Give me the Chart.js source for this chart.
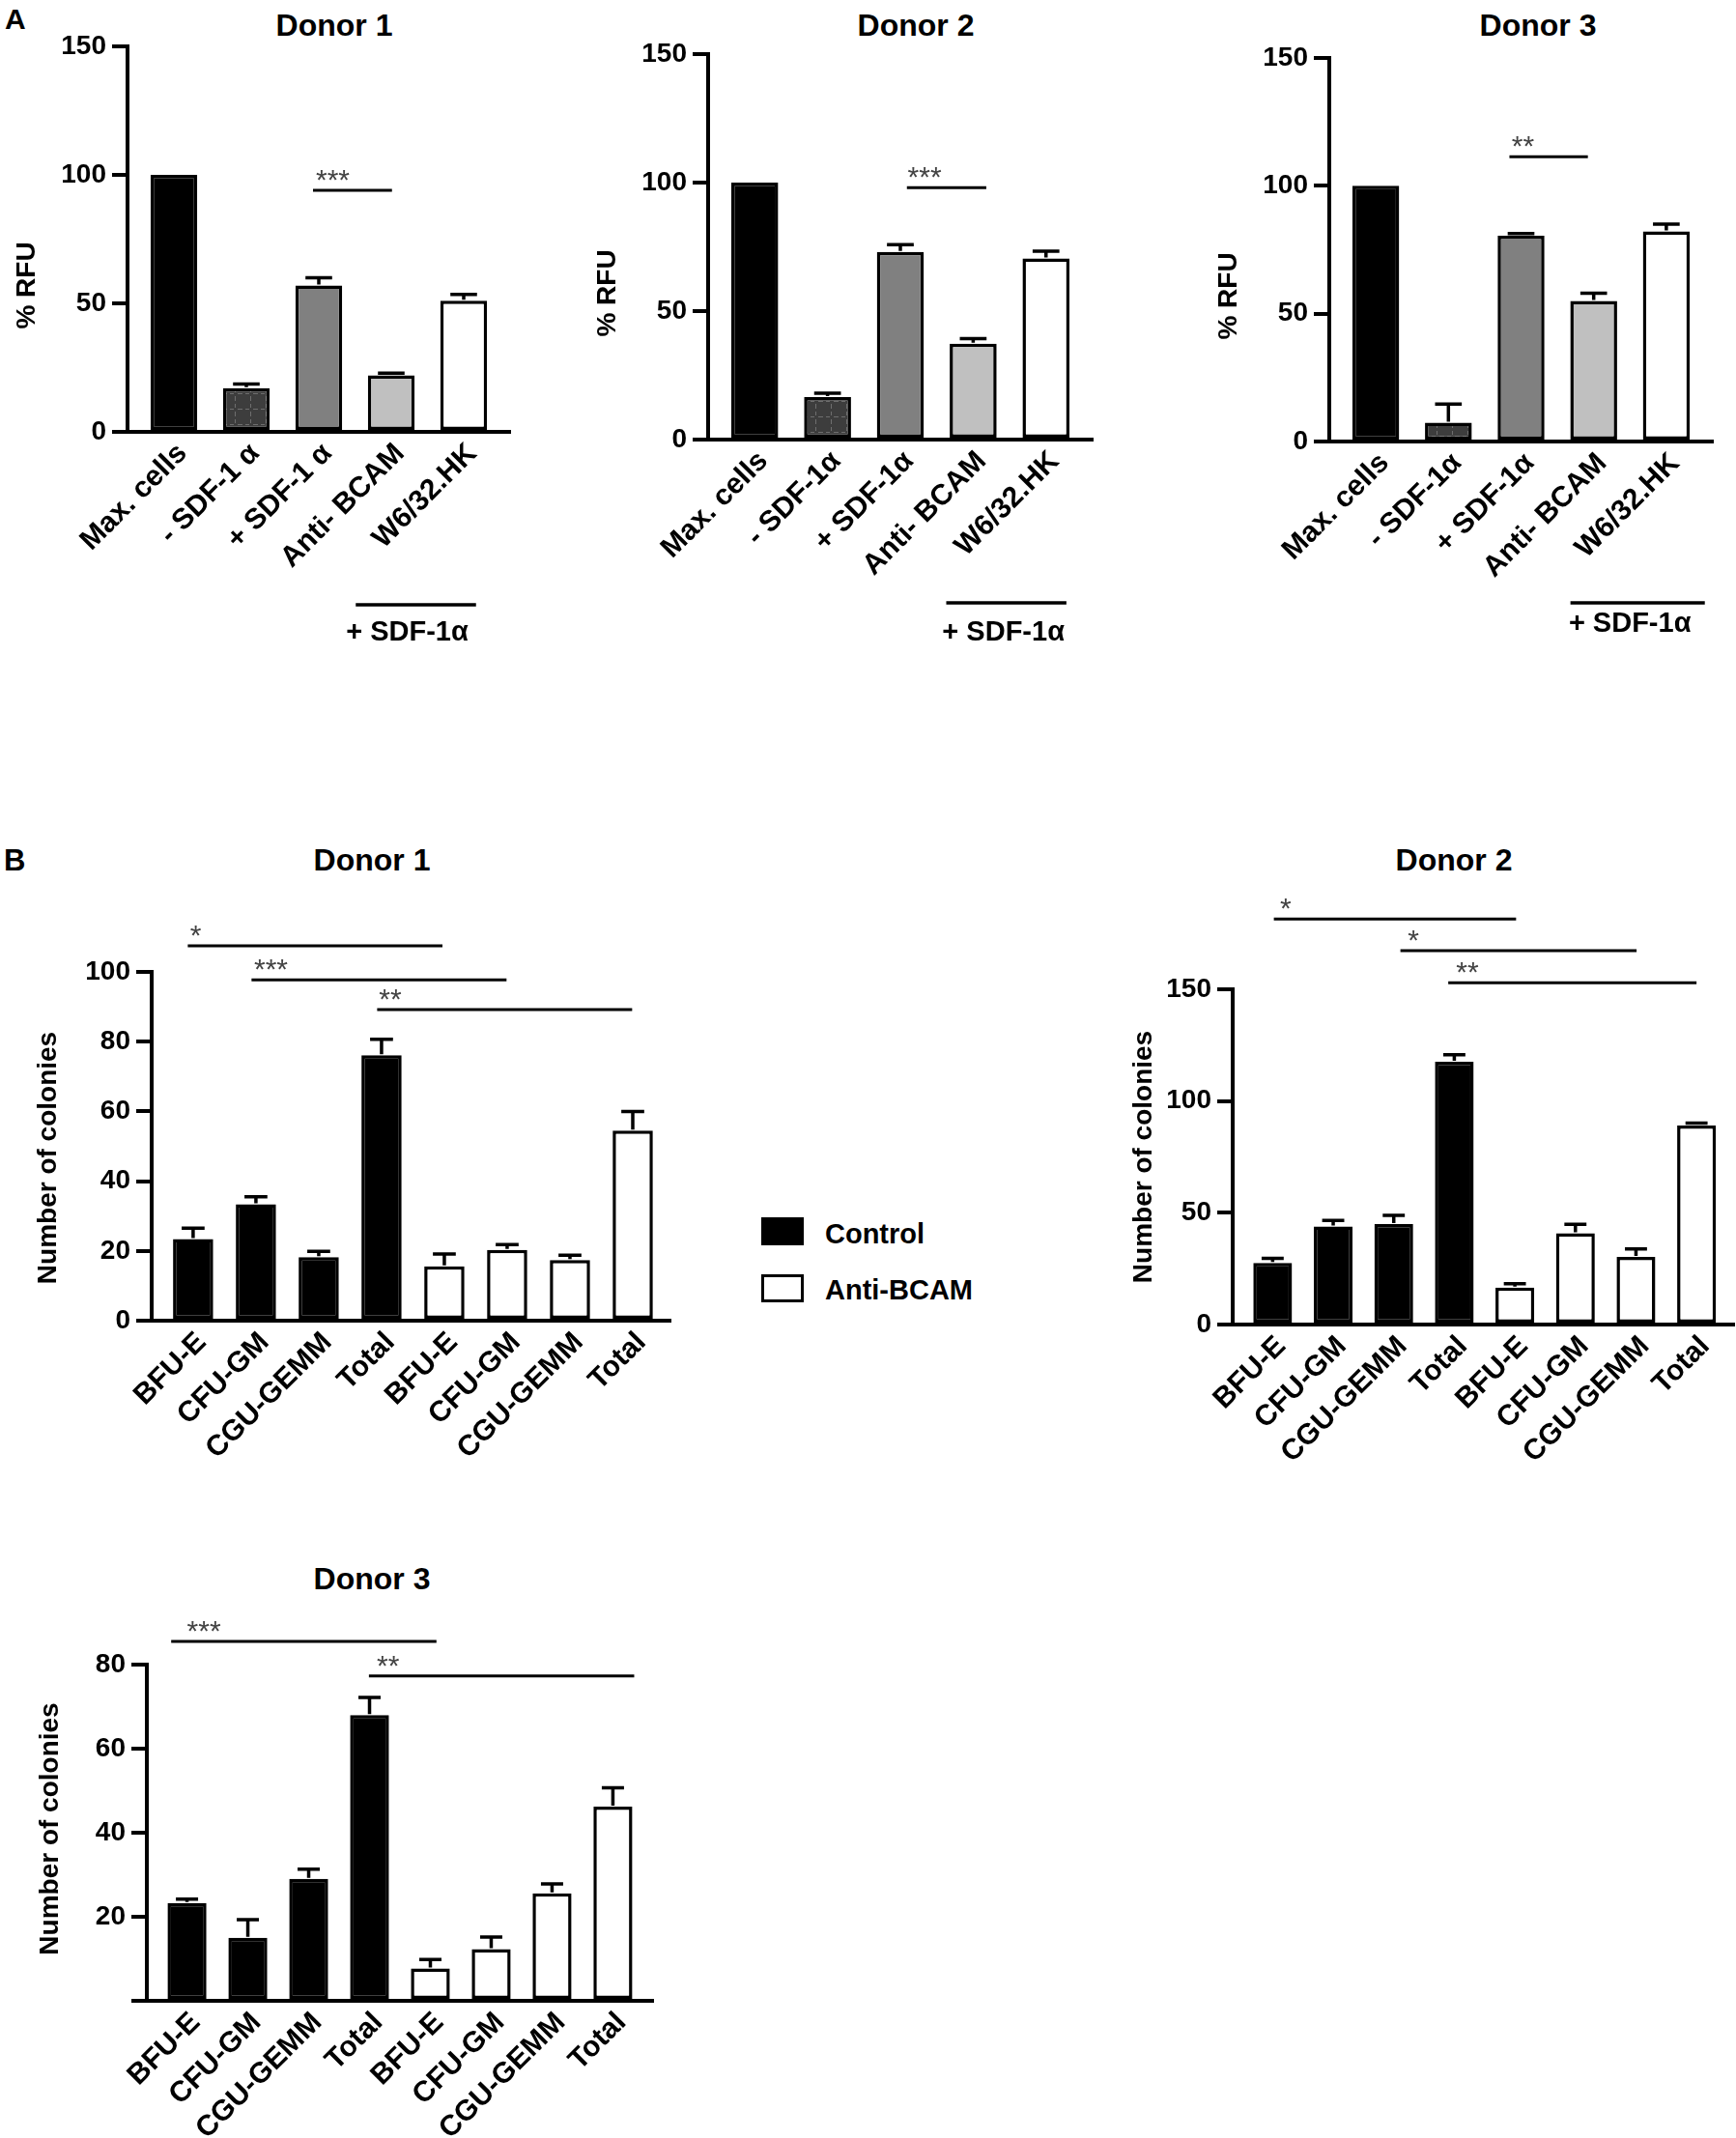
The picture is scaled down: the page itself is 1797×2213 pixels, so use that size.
<!DOCTYPE html>
<html><head><meta charset="utf-8">
<script src="https://cdn.jsdelivr.net/npm/chart.js@4.4.1/dist/chart.umd.min.js"></script>
<style>
html,body{margin:0;padding:0;background:#fff;}
#page{position:relative;width:1797px;height:2213px;overflow:hidden;font-family:"Liberation Sans",Arial,sans-serif;color:#000;}
.box{position:absolute;}
.txt{position:absolute;font-weight:bold;white-space:nowrap;line-height:1;}
.ctr{text-align:center;width:600px;}
.sw{position:absolute;box-sizing:border-box;width:44px;height:29px;}
</style></head><body><div id="page"></div>
<script>
// ---------- DATA ----------
const rfuLabelsDonor1 = ['Max. cells', '- SDF-1 α', '+ SDF-1 α', 'Anti- BCAM', 'W6/32.HK'];
const rfuLabels = ['Max. cells', '- SDF-1α', '+ SDF-1α', 'Anti- BCAM', 'W6/32.HK'];
const rfuDonor1 = [100, 17, 57, 22, 51];
const rfuDonor1Err = [0, 1.6, 3, 0.8, 2.5];
const rfuDonor2 = [100, 16.5, 73, 37.3, 70.5];
const rfuDonor2Err = [0, 1.5, 2.8, 2, 2.8];
const rfuDonor3 = [100, 7.4, 80.5, 55, 82.2];
const rfuDonor3Err = [0, 7.2, 0.8, 3, 2.8];
const rfuTicks = [0, 50, 100, 150];

const colonyTypes = ['BFU-E', 'CFU-GM', 'CGU-GEMM', 'Total'];
const seriesNames = ['Control', 'Anti-BCAM'];
const donor1Control = [23.4, 33.4, 18.2, 76.1];
const donor1ControlErr = [3.1, 2.1, 1.7, 4.6];
const donor1Anti = [15.6, 20.3, 17.4, 54.5];
const donor1AntiErr = [3.5, 1.5, 1.4, 5.5];
const donor2Control = [27.6, 43.9, 45, 117.6];
const donor2ControlErr = [2, 2.7, 3.8, 3.1];
const donor2Anti = [16.5, 40.8, 30.3, 89];
const donor2AntiErr = [1.8, 4, 3.5, 1.1];
const donor3Control = [23.3, 15, 29, 68];
const donor3ControlErr = [0.9, 4.3, 2.3, 4.2];
const donor3Anti = [7.7, 12.3, 25.6, 46.2];
const donor3AntiErr = [2.1, 2.9, 2.2, 4.5];
const colonyTicks1 = [0, 20, 40, 60, 80, 100];
const colonyTicks2 = [0, 50, 100, 150];
const colonyTicks3 = [0, 20, 40, 60, 80];

// significance comparisons (category index units, value level)
const sigRfu1 = [{text: '***', from: 1.92, to: 3.01, level: 94, tx: 1.96}];
const sigRfu2 = [{text: '***', from: 2.09, to: 3.18, level: 98, tx: 2.1}];
const sigRfu3 = [{text: '**', from: 1.84, to: 2.92, level: 111.4, tx: 1.87}];
const sigCol1 = [
  {text: '*', from: -0.085, to: 3.97, level: 107.5, tx: -0.05},
  {text: '***', from: 0.93, to: 4.99, level: 97.7, tx: 0.97},
  {text: '**', from: 2.93, to: 6.99, level: 89.2, tx: 2.96}
];
const sigCol2 = [
  {text: '*', from: 0.02, to: 4.02, level: 181.5, tx: 0.12},
  {text: '*', from: 2.11, to: 6.01, level: 167.3, tx: 2.23},
  {text: '**', from: 2.9, to: 7.0, level: 152.9, tx: 3.03}
];
const sigCol3 = [
  {text: '***', from: -0.26, to: 4.1, level: 85.5, tx: 0.0},
  {text: '**', from: 2.99, to: 7.35, level: 77.3, tx: 3.12}
];
const bracketText = '+ SDF-1α';

// ---------- STYLE ----------
const FAM = "'Liberation Sans', Arial, sans-serif";
const page = document.getElementById('page');

function dashedFill(base, line) {
  const t = document.createElement('canvas');
  t.width = 16; t.height = 16;
  const g = t.getContext('2d');
  g.fillStyle = base; g.fillRect(0, 0, 16, 16);
  g.fillStyle = line;
  g.fillRect(15, 2, 1, 5); g.fillRect(15, 10, 1, 4);
  g.fillRect(2, 15, 5, 1); g.fillRect(10, 15, 4, 1);
  return g.createPattern(t, 'repeat');
}
const rfuColors = ['#000000', dashedFill('#3d3d3d', '#6e6e6e'), '#808080', '#c0c0c0', '#ffffff'];

function addText(txt, x, y, size, cls, extra) {
  const d = document.createElement('div');
  d.className = 'txt' + (cls ? ' ' + cls : '');
  d.textContent = txt;
  d.style.fontSize = size + 'px';
  d.style.left = x + 'px';
  d.style.top = y + 'px';
  if (extra) Object.assign(d.style, extra);
  page.appendChild(d);
  return d;
}
function addTitle(txt, cx, cy, size) {
  addText(txt, cx - 300, cy - 0.4885 * size, size, 'ctr');
}

function makeChart(c) {
  const left = c.area.l - c.yw;
  const top = c.area.t - c.padTop;
  const width = c.area.r - left + c.padRight;
  const height = c.padTop + (c.area.b - c.area.t) + c.xh + c.padBottom;
  const div = document.createElement('div');
  div.className = 'box';
  Object.assign(div.style, {left: left + 'px', top: top + 'px', width: width + 'px', height: height + 'px'});
  const canvas = document.createElement('canvas');
  div.appendChild(canvas);
  page.appendChild(div);

  const annot = {
    id: 'annot',
    afterDatasetsDraw(chart) {
      const ctx = chart.ctx, xs = chart.scales.x, ys = chart.scales.y, ca = chart.chartArea;
      ctx.save();
      ctx.strokeStyle = '#000';
      ctx.lineCap = 'butt';
      // error bars (upper only)
      ctx.lineWidth = 3.5;
      chart.data.datasets.forEach((ds, d) => {
        const meta = chart.getDatasetMeta(d);
        const errs = c.errors[d];
        meta.data.forEach((el, i) => {
          const e = errs[i];
          if (!e) return;
          const v = ds.data[i].y;
          const y0 = ys.getPixelForValue(v);
          const y1 = ys.getPixelForValue(v + e);
          const cw = el.width * 0.57;
          ctx.beginPath();
          ctx.moveTo(el.x, y0 - 1);
          ctx.lineTo(el.x, y1);
          ctx.moveTo(el.x - cw / 2, y1);
          ctx.lineTo(el.x + cw / 2, y1);
          ctx.stroke();
        });
      });
      // significance lines
      ctx.lineWidth = 3;
      c.sig.forEach(s => {
        const y = ys.getPixelForValue(s.level);
        ctx.beginPath();
        ctx.moveTo(xs.getPixelForValue(s.from), y);
        ctx.lineTo(xs.getPixelForValue(s.to), y);
        ctx.stroke();
        ctx.fillStyle = '#444';
        ctx.font = 'normal 30px ' + FAM;
        ctx.textAlign = 'left';
        ctx.textBaseline = 'alphabetic';
        ctx.fillText(s.text, xs.getPixelForValue(s.tx), y - 1);
      });
      // bracket under x labels
      if (c.bracket) {
        const b = c.bracket;
        const x0 = xs.getPixelForValue(b.from), x1 = xs.getPixelForValue(b.to);
        ctx.lineWidth = 3.5;
        ctx.beginPath();
        ctx.moveTo(x0, ca.bottom + b.dy);
        ctx.lineTo(x1, ca.bottom + b.dy);
        ctx.stroke();
        ctx.fillStyle = '#000';
        ctx.font = 'bold 29px ' + FAM;
        ctx.textAlign = 'center';
        ctx.textBaseline = 'middle';
        ctx.fillText(b.text, (x0 + x1) / 2 + b.tdx, ca.bottom + b.ty);
      }
      // y axis title
      ctx.fillStyle = '#000';
      ctx.font = 'bold 28px ' + FAM;
      ctx.translate(ca.left - c.yTitle.dx, (ca.top + ca.bottom) / 2 + c.yTitle.dy);
      ctx.rotate(-Math.PI / 2);
      ctx.textAlign = 'center';
      ctx.textBaseline = 'middle';
      ctx.fillText(c.yTitle.text, 0, 0);
      ctx.restore();
    }
  };

  return new Chart(canvas, {
    type: 'bar',
    data: {datasets: c.datasets},
    options: {
      responsive: true, maintainAspectRatio: false, animation: false, devicePixelRatio: 1,
      layout: {padding: {left: 0, right: c.padRight, top: c.padTop, bottom: c.padBottom}},
      plugins: {legend: {display: false}, tooltip: {enabled: false}, title: {display: false}},
      datasets: {bar: {grouped: false, categoryPercentage: 1, barPercentage: c.barPct, borderWidth: 3.5, borderColor: '#000', borderSkipped: false}},
      scales: {
        x: {
          type: 'linear', min: c.xMin, max: c.xMax, bounds: 'data', offset: false,
          grid: {display: false, drawTicks: false, tickLength: 0},
          border: {display: true, color: '#000', width: 4},
          afterBuildTicks: s => { s.ticks = c.labels.map((_, i) => ({value: i})); },
          afterFit: s => { s.height = c.xh; },
          ticks: {autoSkip: false, minRotation: 45, maxRotation: 45, padding: c.xPad, labelOffset: 9, color: '#000',
                  font: {family: FAM, size: 30, weight: 'bold'},
                  callback: v => (c.labels[v] !== undefined ? c.labels[v] : '')}
        },
        y: {
          type: 'linear', min: c.yTicks[0], max: c.yTicks[c.yTicks.length - 1],
          afterBuildTicks: s => { s.ticks = c.yTicks.map(v => ({value: v})); },
          afterFit: s => { s.width = c.yw; },
          grid: {display: true, drawOnChartArea: false, drawTicks: true, tickLength: 16, lineWidth: 4, tickWidth: 4, color: '#000', tickColor: '#000'},
          border: {display: true, color: '#000', width: 4},
          ticks: {padding: 6, color: '#000', font: {family: FAM, size: 28, weight: 'bold'},
                  callback: v => (c.hideZero && v === 0 ? '' : String(v))}
        }
      }
    },
    plugins: [annot]
  });
}

function rfuChart(area, labels, values, errs, sig, bracket) {
  return makeChart({
    area, yw: 128, padTop: 40, padRight: 15, xh: 150, padBottom: 110, xPad: 5,
    labels, xMin: -0.64, xMax: labels.length - 1 + 0.64, barPct: 0.645,
    yTicks: rfuTicks, hideZero: false,
    datasets: [{data: values.map((v, i) => ({x: i, y: v})), backgroundColor: rfuColors}],
    errors: [errs], sig, bracket,
    yTitle: {text: '% RFU', dx: 104, dy: 48}
  });
}
function colonyChart(area, ctrl, ctrlErr, anti, antiErr, ticks, hideZero, sig, padTop, yTitle, xMax) {
  const labels = colonyTypes.concat(colonyTypes);
  return makeChart({
    area, yw: 125, padTop, padRight: 2, xh: 150, padBottom: 5, xPad: 5,
    labels, xMin: -0.66, xMax, barPct: 0.64,
    yTicks: ticks, hideZero,
    datasets: [
      {label: seriesNames[0], data: ctrl.map((v, i) => ({x: i, y: v})), backgroundColor: '#000'},
      {label: seriesNames[1], data: anti.map((v, i) => ({x: i + colonyTypes.length, y: v})), backgroundColor: '#fff'}
    ],
    errors: [ctrlErr, antiErr], sig, bracket: null, yTitle
  });
}

// ---------- PANEL A ----------
addText('A', 5, 5, 30);
addTitle('Donor 1', 346, 26, 32);
addTitle('Donor 2', 948, 26, 32);
addTitle('Donor 3', 1592, 26, 32);
rfuChart({l: 132, r: 528, t: 48, b: 447}, rfuLabelsDonor1, rfuDonor1, rfuDonor1Err, sigRfu1,
  {from: 2.51, to: 4.17, dy: 179, ty: 208, tdx: -9, text: bracketText});
rfuChart({l: 733, r: 1131, t: 56, b: 455}, rfuLabels, rfuDonor2, rfuDonor2Err, sigRfu2,
  {from: 2.63, to: 4.28, dy: 169, ty: 200, tdx: -3, text: bracketText});
rfuChart({l: 1376, r: 1773, t: 60, b: 457}, rfuLabels, rfuDonor3, rfuDonor3Err, sigRfu3,
  {from: 2.68, to: 4.53, dy: 167, ty: 189, tdx: -8, text: bracketText});

// ---------- PANEL B ----------
addText('B', 4, 875, 31);
addTitle('Donor 1', 385, 890, 32);
addTitle('Donor 2', 1505, 890, 32);
addTitle('Donor 3', 385, 1634, 32);
colonyChart({l: 157, r: 694, t: 1006, b: 1367}, donor1Control, donor1ControlErr, donor1Anti, donor1AntiErr,
  colonyTicks1, false, sigCol1, 80, {text: 'Number of colonies', dx: 107, dy: 12}, 7.6);
colonyChart({l: 1276, r: 1795, t: 1024, b: 1371}, donor2Control, donor2ControlErr, donor2Anti, donor2AntiErr,
  colonyTicks2, false, sigCol2, 120, {text: 'Number of colonies', dx: 92, dy: 0}, 7.62);
colonyChart({l: 152, r: 676, t: 1723, b: 2071}, donor3Control, donor3ControlErr, donor3Anti, donor3AntiErr,
  colonyTicks3, true, sigCol3, 70, {text: 'Number of colonies', dx: 100, dy: -4}, 7.66);

// legend
const sw1 = document.createElement('div'); sw1.className = 'sw';
Object.assign(sw1.style, {left: '788px', top: '1260px', background: '#000'}); page.appendChild(sw1);
const sw2 = document.createElement('div'); sw2.className = 'sw';
Object.assign(sw2.style, {left: '788px', top: '1319px', background: '#fff', border: '3.5px solid #000'}); page.appendChild(sw2);
addText(seriesNames[0], 854, 1288 - 0.8465 * 29, 29);
addText(seriesNames[1], 854, 1346 - 0.8465 * 29, 29);
</script></body></html>
